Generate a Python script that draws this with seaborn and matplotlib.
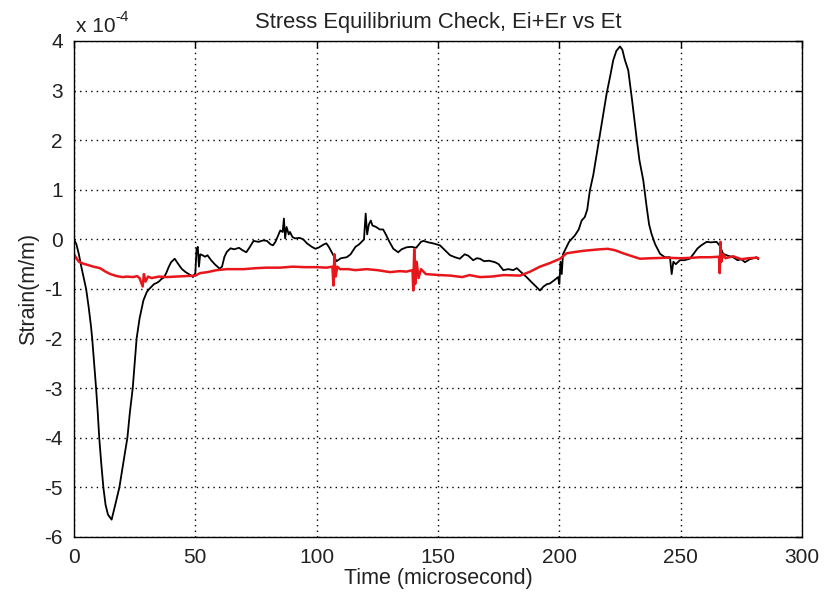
import numpy as np
import pandas as pd
import matplotlib
matplotlib.use("Agg")
import matplotlib.pyplot as plt
import seaborn as sns

# Strain signals in units of 1e-4 m/m, time in microseconds
t_black = [0, 1, 2, 3, 4, 5, 6, 7, 7.5, 8.3, 9.1, 9.8, 10.4, 11.2, 12.1, 13, 14, 15.5,
           17, 18.7, 20, 21, 22, 23, 24.2, 25, 25.8, 27, 28.6, 30, 31, 32, 33, 34, 35,
           36, 37, 38, 39, 40, 41.5, 43, 44.5, 46, 48, 49, 50, 50.5, 51, 51.5, 52, 53,
           54, 55, 56.5, 58, 60, 61, 62, 63, 64.5, 66, 68, 69.5, 71, 72.5, 74, 76, 78,
           79.5, 81, 82, 83, 85, 86, 86.5, 87, 87.6, 88.5, 89, 90, 91, 93, 94.5, 96, 98,
           99.5, 101, 103, 104, 105, 106.2, 107.5, 108.2, 110, 112.4, 114, 116, 117.5,
           118.5, 119.5, 120.2, 120.8, 121.5, 122.3, 123, 124.5, 126, 127.4, 128.5, 130,
           131.6, 133.6, 135, 137, 139, 141, 143, 144, 146, 148, 150.8, 152.5, 155, 157,
           159, 161, 162.5, 164.5, 166, 167.3, 169, 171, 173.5, 175, 176.9, 179, 181,
           182.5, 184, 186.5, 188.5, 190.6, 192, 193.5, 195, 196.1, 198, 199.5, 200,
           200.5, 201, 201.5, 202.5, 204, 206.4, 208, 209.2, 210.5, 211.5, 212.6, 214,
           215, 216.7, 218, 219.5, 221, 222.2, 223.5, 225, 226, 227, 228.4, 230, 231.8,
           233, 234.6, 236, 237, 238, 239.5, 241.5, 243.5, 245.6, 246.3, 247, 248,
           249.7, 251.5, 253.8, 255.5, 257, 258.5, 260.7, 262.5, 264.8, 266, 267.5,
           269.5, 271.6, 273.5, 275, 276.5, 278.5, 280, 281.3, 282]
e_black = [0.0, -0.1, -0.3, -0.55, -0.78, -1.0, -1.35, -1.75, -2.0, -2.5, -3.0, -3.5,
           -4.0, -4.5, -5.0, -5.35, -5.55, -5.65, -5.35, -5.0, -4.6, -4.3, -4.0, -3.5,
           -3.0, -2.5, -2.0, -1.6, -1.23, -1.06, -1.0, -0.95, -0.9, -0.88, -0.85, -0.8,
           -0.77, -0.68, -0.56, -0.46, -0.39, -0.5, -0.6, -0.66, -0.72, -0.76, -0.68,
           -0.2, -0.15, -0.55, -0.3, -0.32, -0.35, -0.32, -0.42, -0.5, -0.59, -0.55,
           -0.35, -0.25, -0.18, -0.2, -0.17, -0.22, -0.26, -0.15, -0.03, -0.05, -0.02,
           -0.03, -0.1, -0.12, -0.05, 0.18, 0.15, 0.42, 0.02, 0.25, 0.1, 0.15, 0.05,
           0.02, 0.03, 0.0, -0.08, -0.15, -0.19, -0.16, -0.1, -0.08, -0.15, -0.26,
           -0.38, -0.44, -0.38, -0.36, -0.3, -0.15, -0.1, -0.05, 0.0, 0.52, 0.1, 0.3,
           0.38, 0.28, 0.25, 0.2, 0.2, 0.1, -0.05, -0.19, -0.26, -0.2, -0.16, -0.15,
           -0.17, -0.05, -0.03, -0.06, -0.08, -0.12, -0.2, -0.32, -0.36, -0.39, -0.3,
           -0.33, -0.42, -0.38, -0.39, -0.44, -0.43, -0.46, -0.5, -0.62, -0.6, -0.62,
           -0.58, -0.65, -0.76, -0.86, -0.96, -1.03, -0.95, -0.9, -0.89, -0.82, -0.76,
           -0.9, -0.45, -0.7, -0.3, -0.2, -0.05, 0.08, 0.2, 0.38, 0.45, 0.6, 0.99, 1.3,
           1.6, 2.1, 2.5, 2.94, 3.3, 3.61, 3.8, 3.89, 3.82, 3.62, 3.41, 2.8, 2.06, 1.6,
           1.19, 0.65, 0.3, 0.11, -0.1, -0.29, -0.36, -0.36, -0.7, -0.45, -0.5, -0.42,
           -0.42, -0.39, -0.28, -0.18, -0.12, -0.05, -0.06, -0.05, -0.12, -0.29, -0.33,
           -0.36, -0.42, -0.4, -0.46, -0.4, -0.38, -0.36, -0.4]

t_red = [0, 1, 2, 3.8, 6, 8, 10.7, 13, 15, 17.6, 20, 22, 24.4, 26, 27, 28.3, 28.8,
         29.5, 30.5, 32, 35, 38.2, 42, 46, 49.9, 52, 55, 58.8, 63, 70, 75, 79.4, 85,
         90, 95, 100, 104, 106.5, 106.9, 107.3, 107.8, 108.5, 109.6, 113, 116, 120.6,
         125, 130.2, 134.3, 137, 139.5, 139.8, 140.2, 140.6, 141.2, 142, 143, 145,
         150.8, 155, 160, 163, 167.3, 172, 177, 183.8, 188, 192, 196, 200.3, 203,
         205.7, 210, 216.7, 220, 223, 226.3, 230, 233.2, 238, 244.2, 250, 255, 258,
         262, 265.8, 266.1, 266.4, 266.8, 267.5, 268.5, 271.6, 275, 278, 281.3, 282]
e_red = [-0.3, -0.38, -0.45, -0.49, -0.52, -0.55, -0.58, -0.65, -0.7, -0.74, -0.76,
         -0.75, -0.76, -0.74, -0.78, -0.95, -0.7, -0.85, -0.75, -0.78, -0.75, -0.76,
         -0.75, -0.74, -0.73, -0.68, -0.66, -0.62, -0.6, -0.6, -0.58, -0.57, -0.57,
         -0.55, -0.56, -0.56, -0.57, -0.55, -0.93, -0.3, -0.75, -0.55, -0.6, -0.6,
         -0.62, -0.6, -0.62, -0.66, -0.64, -0.65, -0.62, -1.03, -0.2, -0.9, -0.45,
         -0.78, -0.6, -0.7, -0.72, -0.73, -0.76, -0.72, -0.76, -0.75, -0.72, -0.73,
         -0.65, -0.55, -0.48, -0.39, -0.28, -0.26, -0.23, -0.2, -0.19, -0.22, -0.28,
         -0.34, -0.39, -0.38, -0.37, -0.38, -0.37, -0.36, -0.36, -0.35, -0.68, -0.05,
         -0.45, -0.3, -0.38, -0.34, -0.4, -0.38, -0.37, -0.38]

x_ticks = [0, 50, 100, 150, 200, 250, 300]
y_ticks = [-6, -5, -4, -3, -2, -1, 0, 1, 2, 3, 4]

sns.set_theme(style="white")
plt.rcParams["font.family"] = ["Liberation Sans", "DejaVu Sans"]

TXT = "#222222"

fig = plt.figure(figsize=(8.25, 5.94), dpi=100)
ax = fig.add_axes([0.0897, 0.096, 0.8824, 0.835])

df_black = pd.DataFrame({"t": t_black, "e": e_black})
df_red = pd.DataFrame({"t": t_red, "e": e_red})
sns.lineplot(data=df_black, x="t", y="e", ax=ax, color="black", lw=1.3,
             sort=False, estimator=None)
sns.lineplot(data=df_red, x="t", y="e", ax=ax, color="#e8161b", lw=1.8,
             sort=False, estimator=None)

ax.set_xlim(0, 300)
ax.set_ylim(-6, 4)
ax.set_xticks(x_ticks)
ax.set_yticks(y_ticks)
ax.set_xticklabels([str(v) for v in x_ticks])
ax.set_yticklabels([str(v) for v in y_ticks])

ax.grid(True, color="black", linestyle=(0, (1, 3)), linewidth=1.0)
for s in ax.spines.values():
    s.set_color("black")
    s.set_linewidth(1.0)
ax.tick_params(direction="in", length=5, width=1, color="black",
               top=True, right=True, labelsize=15, pad=8, labelcolor=TXT)

ax.set_title("Stress Equilibrium Check, Ei+Er vs Et", fontsize=15.8, pad=9,
             color=TXT)
ax.set_xlabel("Time (microsecond)", fontsize=15.5, color=TXT, labelpad=1)
ax.set_ylabel("Strain(m/m)", fontsize=15.5, color=TXT, labelpad=4)

# exponent marker for the y axis scale
ax.text(0.003, 1.01, "x 10", transform=ax.transAxes, fontsize=15,
        color=TXT, ha="left", va="bottom")
ax.text(0.057, 1.035, "-4", transform=ax.transAxes, fontsize=11,
        color=TXT, ha="left", va="bottom")

fig.savefig("out.png", dpi=100, facecolor="white")
